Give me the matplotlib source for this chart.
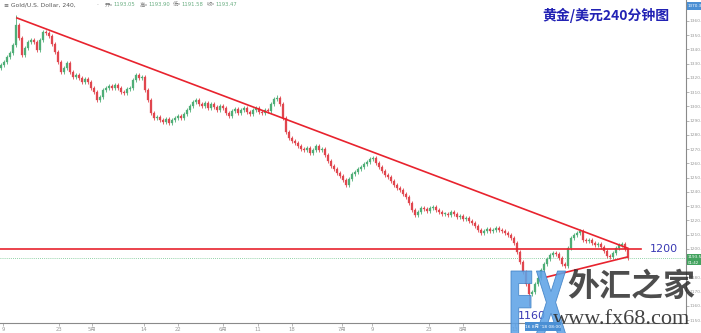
import matplotlib
matplotlib.use("Agg")
import matplotlib.pyplot as plt
import numpy as np
from matplotlib.patches import Rectangle, PathPatch
from matplotlib.textpath import TextPath
from matplotlib.font_manager import FontProperties
from matplotlib.transforms import Affine2D, IdentityTransform

plt.rcParams['font.family'] = ['DejaVu Sans', 'Noto Sans CJK SC']

# ---------------- data ----------------
closes = [
    1329.1, 1331.2, 1334.7, 1337.5, 1343.1, 1357.2, 1348.0, 1336.1, 1341.0, 1345.2,
    1346.6, 1345.2, 1339.6, 1346.6, 1352.2, 1351.5, 1349.4, 1343.8, 1338.2, 1331.2,
    1324.2, 1327.0, 1330.5, 1324.2, 1320.7, 1322.1, 1320.0, 1317.2, 1319.3, 1317.2,
    1312.9, 1310.1, 1304.5, 1306.6, 1311.5, 1312.9, 1314.3, 1312.9, 1315.0, 1312.9,
    1310.1, 1309.4, 1312.2, 1312.9, 1318.6, 1322.1, 1320.0, 1320.7, 1311.5, 1304.5,
    1295.4, 1291.9, 1292.6, 1290.5, 1289.1, 1291.2, 1288.4, 1290.5, 1291.9, 1293.3,
    1291.9, 1294.7, 1297.5, 1300.3, 1303.1, 1304.5, 1301.7, 1300.3, 1302.4, 1298.9,
    1301.7, 1299.6, 1297.5, 1300.3, 1298.9, 1295.4, 1293.3, 1296.8, 1298.2, 1295.4,
    1297.5, 1298.9, 1296.1, 1294.7, 1297.5, 1298.9, 1296.1, 1295.4, 1297.5, 1296.8,
    1301.7, 1305.2, 1305.9, 1301.7, 1291.9, 1282.1, 1277.9, 1275.7, 1274.3, 1272.2,
    1270.1, 1269.4, 1270.8, 1267.3, 1269.4, 1272.2, 1269.4, 1270.1, 1265.9, 1261.7,
    1258.2, 1256.1, 1253.3, 1251.2, 1248.4, 1244.9, 1249.1, 1252.6, 1254.0, 1256.1,
    1257.5, 1259.6, 1261.0, 1263.1, 1263.8, 1260.3, 1257.5, 1254.7, 1251.9, 1250.5,
    1247.7, 1244.9, 1242.8, 1241.4, 1238.6, 1236.4, 1232.2, 1227.3, 1223.8, 1225.9,
    1228.7, 1228.0, 1226.6, 1228.7, 1229.4, 1227.3, 1225.9, 1224.5, 1224.5, 1223.8,
    1225.9, 1224.5, 1222.4, 1223.1, 1221.0, 1221.7, 1219.6, 1218.2, 1216.1, 1213.3,
    1211.2, 1212.6, 1214.0, 1212.6, 1213.3, 1214.7, 1213.3, 1212.6, 1211.2, 1209.8,
    1207.7, 1204.2, 1197.8, 1190.8, 1183.8, 1175.4, 1168.4, 1169.8, 1175.4, 1179.6,
    1185.2, 1189.4, 1192.9, 1195.7, 1197.1, 1196.4, 1193.6, 1189.4, 1188.0, 1200.7,
    1207.7, 1209.8, 1211.2, 1212.6, 1206.3, 1205.6, 1206.3, 1204.2, 1202.8, 1203.5,
    1201.4, 1198.5, 1195.0, 1194.3, 1197.1, 1200.7, 1202.8, 1203.5, 1200.0, 1193.5,
]
first_open = 1327.0
wick = 1.3
high_overrides = {5: 1364.5, 92: 1308.0}
low_overrides = {176: 1160.0}

x_tick_pos = [0.7, 19.3, 30.3, 47.7, 59.0, 74.0, 85.7, 97.0, 113.7, 123.7, 142.7, 154.0, 171.3]
x_tick_labels = ["9", "23", "5月", "14", "22", "6月", "11", "18", "7月", "9", "23", "8月", "13"]
y_ticks = list(range(1150, 1371, 10))
y_hidden = [1370, 1190]   # covered by the price boxes

upper_trend_x = [5.3, 208.7]
upper_trend_y = [1362.1, 1200.7]
lower_trend_x = [182.0, 208.7]
lower_trend_y = [1180.3, 1194.3]
level_price = 1200.0
level_x = [-0.4, 213.3]
low_label_price = 1153.0
last_price = 1193.47
ohlc_vals = ["1193.05", "1193.90", "1191.58", "1193.47"]
ohlc_keys = ["开=", "高=", "低=", "收="]

# ---------------- figure ----------------
W, H = 701, 333
fig = plt.figure(figsize=(W / 100, H / 100), dpi=100)
fig.patch.set_facecolor('white')
ax = fig.add_axes([0, 10 / H, 686 / W, 323 / H])
ax.set_facecolor('white')

n = len(closes)
idx = np.arange(n)
c = np.array(closes)
o = np.concatenate([[first_open], c[:-1]])
hi = np.maximum(o, c) + wick
lo = np.minimum(o, c) - wick
for k, v in high_overrides.items():
    hi[k] = v
for k, v in low_overrides.items():
    lo[k] = v

up = c >= o
green = '#4fae77'
red = '#e0464e'
colors = np.where(up, green, red)
ax.vlines(idx, lo, hi, colors=colors, lw=0.6, zorder=2)
body_h = np.maximum(np.abs(c - o), 0.4)
ax.bar(idx, body_h, bottom=np.minimum(o, c), width=0.62, color=colors,
       edgecolor=colors, linewidth=0.2, zorder=3)

# current price line
ax.axhline(last_price, color='#6cc48a', lw=0.6, ls=(0, (1, 1.5)), zorder=1)

# trend lines
tl = '#e8232e'
ax.plot(upper_trend_x, upper_trend_y, color=tl, lw=1.2, zorder=4)
ax.plot(lower_trend_x, lower_trend_y, color=tl, lw=1.2, zorder=4)
ax.plot(level_x, [level_price, level_price], color=tl, lw=1.2, zorder=4)
ax.text(216.3, level_price, "1200", color='#3a3ab4', fontsize=8, va='center',
        ha='left', zorder=5, clip_on=False)

ax.set_xlim(-1 / 3, 685 / 3)
ax.set_ylim(1148.0, 1374.7)

# axes styling
for s in ['left', 'top']:
    ax.spines[s].set_visible(False)
ax.spines['right'].set_color('#8a8a8a')
ax.spines['right'].set_linewidth(0.8)
ax.spines['bottom'].set_color('#8a8a8a')
ax.spines['bottom'].set_linewidth(0.8)
ax.yaxis.tick_right()
ax.set_yticks(y_ticks)
ax.set_yticklabels(["" if v in y_hidden else f"{v:.1f}" for v in y_ticks])
ax.tick_params(axis='y', labelsize=3.2, colors='#9a9a9a', length=2, width=0.5, pad=0.6)
ax.set_xticks(x_tick_pos)
ax.set_xticklabels(x_tick_labels)
ax.tick_params(axis='x', labelsize=3.8, colors='#9a9a9a', length=2, width=0.5, pad=1)

def fx(px):
    return px / W

def fy(py):
    return 1 - py / H

# header
fig.text(fx(4), fy(5), "≡ Gold/U.S. Dollar, 240,", fontsize=4.3, color='#555555', va='center', ha='left')
fig.text(fx(96), fy(5), "·", fontsize=4.3, color='#888888', va='center', ha='left')
starts = [105, 140, 173, 207]
for sx, k, v in zip(starts, ohlc_keys, ohlc_vals):
    fig.text(fx(sx), fy(5), k, fontsize=3.8, color='#777777', va='center', ha='left',
             family=['Noto Sans CJK SC', 'DejaVu Sans'])
    fig.text(fx(sx + 8), fy(5), v, fontsize=3.8, color='#6aae82', va='center', ha='left')

# title
fig.text(fx(606), fy(15), "黄金/美元240分钟图", fontsize=10, fontweight='bold',
         color='#2222b4', va='center', ha='center', family=['Noto Sans CJK SC', 'DejaVu Sans'])

# price boxes on axis
fig.patches.append(Rectangle((fx(687), fy(10)), 14 / W, 8 / H, transform=fig.transFigure,
                             facecolor='#4a8fd4', edgecolor='none', zorder=10))
fig.text(fx(688), fy(6), "1370.3", fontsize=3.0, color='white', va='center', ha='left', zorder=11)
fig.patches.append(Rectangle((fx(687), fy(265)), 14 / W, 11 / H, transform=fig.transFigure,
                             facecolor='#43a35f', edgecolor='none', zorder=10))
fig.text(fx(688), fy(257.5), "1193.5", fontsize=3.0, color='white', va='center', ha='left', zorder=11)
fig.text(fx(688), fy(262.5), "01:42", fontsize=2.8, color='white', va='center', ha='left', zorder=11)

# annotation 1160
ax.text(172.3, low_label_price, "1160", color='#3a3ab4', fontsize=8, va='center', ha='left', zorder=6)

# watermark: stretched "FX" logo
tp = TextPath((0, 0), "FX", size=100,
              prop=FontProperties(family=['Liberation Sans Narrow', 'DejaVu Sans'], weight='bold'))
ext = tp.get_extents()
tx0, tx1, ty0, ty1 = 511, 566, 333 - 335, 333 - 271
sx = (tx1 - tx0) / ext.width
sy = (ty1 - ty0) / ext.height
trans = Affine2D().translate(-ext.x0, -ext.y0).scale(sx, sy).translate(tx0, ty0)
fig.patches.append(PathPatch(tp, transform=trans + IdentityTransform(), facecolor='#5ea3e6',
                             edgecolor='#3d7fc4', linewidth=0.6, alpha=0.88, zorder=20))
fig.text(fx(567), fy(287), "外汇之家", fontsize=23, fontweight='bold', color='#2e2e2e', alpha=0.85,
         family=['Noto Sans CJK SC', 'DejaVu Sans'], va='center', ha='left', zorder=20)
fig.text(fx(553), fy(320), "www.fx68.com", fontsize=16, color='#2e2e2e', alpha=0.9,
         family=['Liberation Serif', 'DejaVu Serif'], va='center', ha='left', zorder=21)

# date label box at bottom
fig.patches.append(Rectangle((fx(525), fy(331)), 36 / W, 9 / H, transform=fig.transFigure,
                             facecolor='#4a8fd4', edgecolor='none', zorder=22))
fig.text(fx(543), fy(326.5), "16 8月 '18 08:00", fontsize=3.2, color='white', va='center', ha='center',
         zorder=23, family=['DejaVu Sans', 'Noto Sans CJK SC'])

fig.savefig("out.png", dpi=100)
